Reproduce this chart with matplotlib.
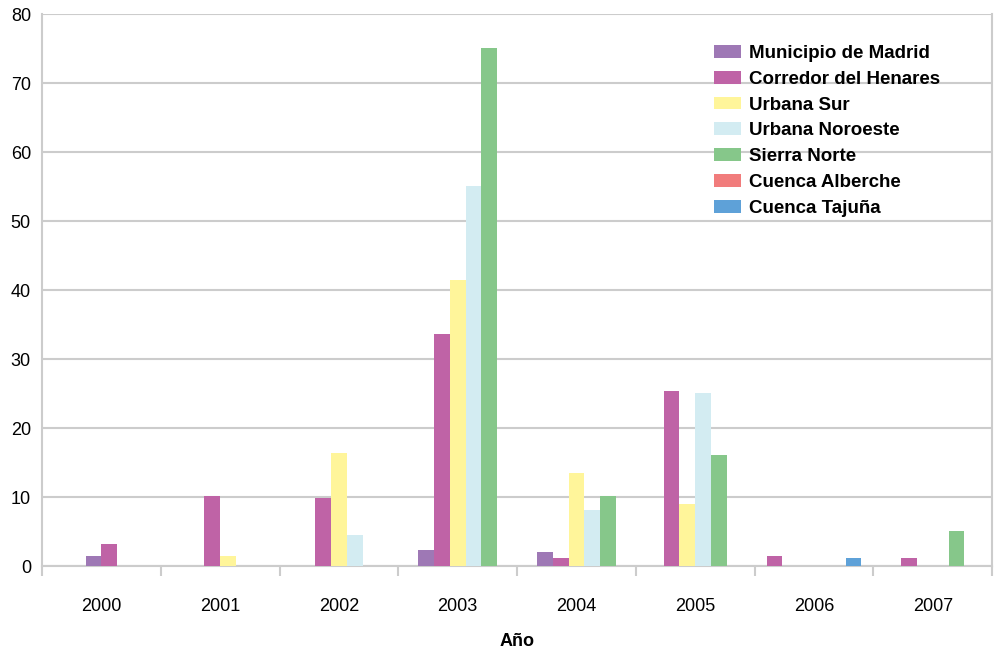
import numpy as np
import matplotlib.pyplot as plt
from matplotlib.patches import Patch

plt.rcParams['font.family'] = ['Liberation Sans', 'DejaVu Sans']

years = ['2000', '2001', '2002', '2003', '2004', '2005', '2006', '2007']
series = ['Municipio de Madrid', 'Corredor del Henares', 'Urbana Sur',
          'Urbana Noroeste', 'Sierra Norte', 'Cuenca Alberche', 'Cuenca Tajuña']
colors = ['#9e78b5', '#bf63a6', '#fff59a', '#d3ecf2', '#86c78a', '#f17c7c', '#5ea1d8']

nan = np.nan
# one list per series, nan where the year has no value
municipio = [1.4, nan, nan, 2.3, 2.0, nan, nan, nan]
corredor = [3.2, 10.1, 9.9, 33.6, 1.2, 25.4, 1.4, 1.2]
urbana_sur = [nan, 1.4, 16.4, 41.5, 13.5, 9.0, 0, 0]
urbana_noroeste = [nan, nan, 4.5, 55.1, 8.1, 25.1, 0, 0]
sierra_norte = [nan, nan, nan, 75.1, 10.1, 16.1, 0, 5.1]
cuenca_alberche = [nan, nan, nan, nan, nan, nan, 0, nan]
cuenca_tajuna = [nan, nan, nan, nan, nan, nan, 1.2, nan]

values = np.array([municipio, corredor, urbana_sur, urbana_noroeste,
                   sierra_norte, cuenca_alberche, cuenca_tajuna])

fig = plt.figure(figsize=(9.98, 6.52), dpi=100)
ax = fig.add_axes([0.0421, 0.1319, 0.952, 0.8466])

# bars of each year are packed side by side and centred on the year
bw = 0.133
for i in range(len(years)):
    present = [s for s in range(len(series)) if not np.isnan(values[s, i])]
    n = len(present)
    for k, s in enumerate(present):
        x = i + (k - (n - 1) / 2) * bw
        ax.bar(x, values[s, i], width=bw, color=colors[s], linewidth=0, zorder=3)

ax.set_xlim(-0.5, len(years) - 0.5)
ax.set_ylim(0, 80)
ax.set_yticks(range(0, 81, 10))
ax.set_xticks(range(len(years)))
ax.set_xticklabels(years)
ax.set_xticks(np.arange(-0.5, len(years)), minor=True)
ax.tick_params(axis='x', which='major', length=0, pad=23, labelsize=13)
ax.tick_params(axis='x', which='minor', length=7.5, width=1.5, color='#cccccc')
ax.tick_params(axis='y', length=0, pad=8, labelsize=13)
ax.grid(axis='y', color='#cccccc', linewidth=1.5, zorder=0)
ax.spines['top'].set_visible(False)
for side in ['left', 'right', 'bottom']:
    ax.spines[side].set_color('#cccccc')
    ax.spines[side].set_linewidth(1.5)

ax.set_xlabel('Año', fontweight='bold', fontsize=13, labelpad=13)

handles = [Patch(facecolor=c, edgecolor='none') for c in colors]
fig.legend(handles, series, loc='upper left', bbox_to_anchor=(714 / 998, 1 - 45 / 652),
           frameon=False, prop={'weight': 'bold', 'size': 13.5},
           borderpad=0, borderaxespad=0,
           handlelength=1.44, handleheight=0.67, handletextpad=0.44, labelspacing=0.47)

fig.savefig('out.png', dpi=100)
